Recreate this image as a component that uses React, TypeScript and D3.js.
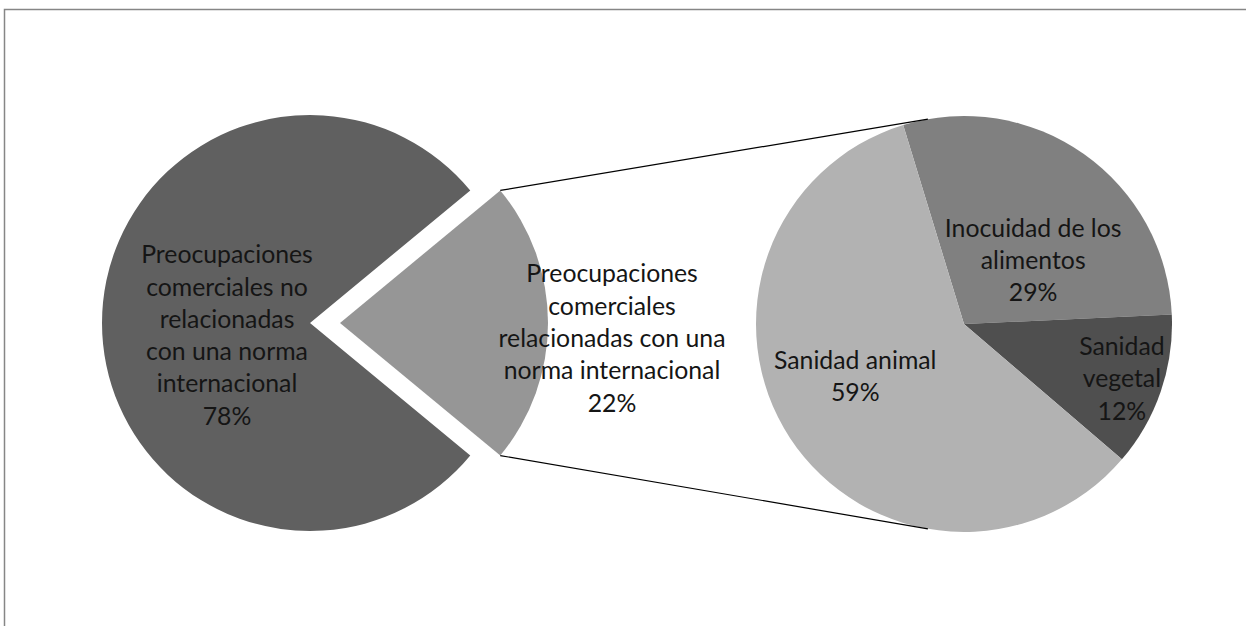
import React from 'react';
import * as d3 from 'd3';

// ---- Data ----
const mainCategories = [
  'Preocupaciones comerciales relacionadas con una norma internacional',
  'Preocupaciones comerciales no relacionadas con una norma internacional',
];
const mainValues = [22, 78];
const mainLabelLines = [
  ['Preocupaciones', 'comerciales', 'relacionadas con una', 'norma internacional'],
  ['Preocupaciones', 'comerciales no', 'relacionadas', 'con una norma', 'internacional'],
];
const subCategories = ['Inocuidad de los alimentos', 'Sanidad vegetal', 'Sanidad animal'];
const subValues = [29, 12, 59];
const subLabelLines = [
  ['Inocuidad de los', 'alimentos'],
  ['Sanidad', 'vegetal'],
  ['Sanidad animal'],
];

// ---- Styles / layout ----
const W = 1246;
const H = 626;
const mainColors = ['#969696', '#606060'];
const subColors = ['#808080', '#4f4f4f', '#b2b2b2'];
const R = 208;
const mainCenter = { x: 310, y: 323 };
const subCenter = { x: 964, y: 324 };
const explode = 30;
const lineH = 32.3;
// label placement: distance from center along slice mid-angle, plus vertical nudge
const mainLabelPlace = [
  { dist: 272, dy: 24 },
  { dist: 83, dy: 21 },
];
const subLabelPlace = [
  { dist: 120, dy: 43 },
  { dist: 167, dy: 9 },
  { dist: 130, dy: -10 },
];
const connectorAngleDeg = 10;
const subStartDeg = -17;

const polar = (a: number, d: number) => [d * Math.sin(a), -d * Math.cos(a)];

function Label({ x, y, lines }: { x: number; y: number; lines: string[] }) {
  const first = y - ((lines.length - 1) * lineH) / 2;
  return (
    <text
      x={x}
      y={first}
      textAnchor="middle"
      fontFamily="Lato, 'Open Sans', sans-serif"
      fontSize={24.8}
      fill="#151515"
    >
      {lines.map((l, i) => (
        <tspan key={i} x={x} y={first + i * lineH}>
          {l}
        </tspan>
      ))}
    </text>
  );
}

export default function App() {
  const mainTotal = d3.sum(mainValues);
  const mainHalf = (mainValues[0] / mainTotal) * Math.PI;
  const mainPie = d3
    .pie<number>()
    .sort(null)
    .startAngle(Math.PI / 2 - mainHalf)
    .endAngle(Math.PI / 2 - mainHalf + 2 * Math.PI);
  const mainArcs = mainPie(mainValues);

  const subStart = (subStartDeg * Math.PI) / 180;
  const subPie = d3
    .pie<number>()
    .sort(null)
    .startAngle(subStart)
    .endAngle(subStart + 2 * Math.PI);
  const subArcs = subPie(subValues);

  const arc = d3.arc<d3.PieArcDatum<number>>().innerRadius(0).outerRadius(R);

  // exploded slice offset
  const midSel = (mainArcs[0].startAngle + mainArcs[0].endAngle) / 2;
  const [ex, ey] = polar(midSel, explode);
  const selCenter = { x: mainCenter.x + ex, y: mainCenter.y + ey };

  // connectors
  const [t1x, t1y] = polar(mainArcs[0].startAngle, R);
  const [b1x, b1y] = polar(mainArcs[0].endAngle, R);
  const ca = (connectorAngleDeg * Math.PI) / 180;
  const [t2x, t2y] = polar(-ca, R);
  const [b2x, b2y] = polar(Math.PI + ca, R);

  const mainTotalPct = (v: number) => `${Math.round((v / mainTotal) * 100)}%`;
  const subTotal = d3.sum(subValues);
  const subPct = (v: number) => `${Math.round((v / subTotal) * 100)}%`;

  return (
    <svg
      width={W}
      height={H}
      style={{ position: 'absolute', left: 0, top: 0, display: 'block', background: '#fff' }}
    >
      <rect x={4.5} y={9.5} width={W + 100} height={H + 100} fill="#fff" stroke="#868686" strokeWidth={1.5} />
      {/* main pie */}
      <g>
        {mainArcs.map((a, i) => {
          const c = i === 0 ? selCenter : mainCenter;
          return (
            <path
              key={mainCategories[i]}
              d={arc(a) || ''}
              transform={`translate(${c.x},${c.y})`}
              fill={mainColors[i]}
            />
          );
        })}
      </g>
      {/* sub pie */}
      <g transform={`translate(${subCenter.x},${subCenter.y})`}>
        {subArcs.map((a, i) => (
          <path key={subCategories[i]} d={arc(a) || ''} fill={subColors[i]} />
        ))}
      </g>
      {/* connector lines */}
      <line
        x1={selCenter.x + t1x}
        y1={selCenter.y + t1y}
        x2={subCenter.x + t2x}
        y2={subCenter.y + t2y}
        stroke="#000"
        strokeWidth={1.2}
      />
      <line
        x1={selCenter.x + b1x}
        y1={selCenter.y + b1y}
        x2={subCenter.x + b2x}
        y2={subCenter.y + b2y}
        stroke="#000"
        strokeWidth={1.2}
      />
      {/* labels */}
      {mainArcs.map((a, i) => {
        const c = i === 0 ? selCenter : mainCenter;
        const m = (a.startAngle + a.endAngle) / 2;
        const [px, py] = polar(m, mainLabelPlace[i].dist);
        return (
          <Label
            key={'ml' + i}
            x={c.x + px}
            y={c.y + py + mainLabelPlace[i].dy}
            lines={[...mainLabelLines[i], mainTotalPct(mainValues[i])]}
          />
        );
      })}
      {subArcs.map((a, i) => {
        const m = (a.startAngle + a.endAngle) / 2;
        const [px, py] = polar(m, subLabelPlace[i].dist);
        return (
          <Label
            key={'sl' + i}
            x={subCenter.x + px}
            y={subCenter.y + py + subLabelPlace[i].dy}
            lines={[...subLabelLines[i], subPct(subValues[i])]}
          />
        );
      })}
    </svg>
  );
}
